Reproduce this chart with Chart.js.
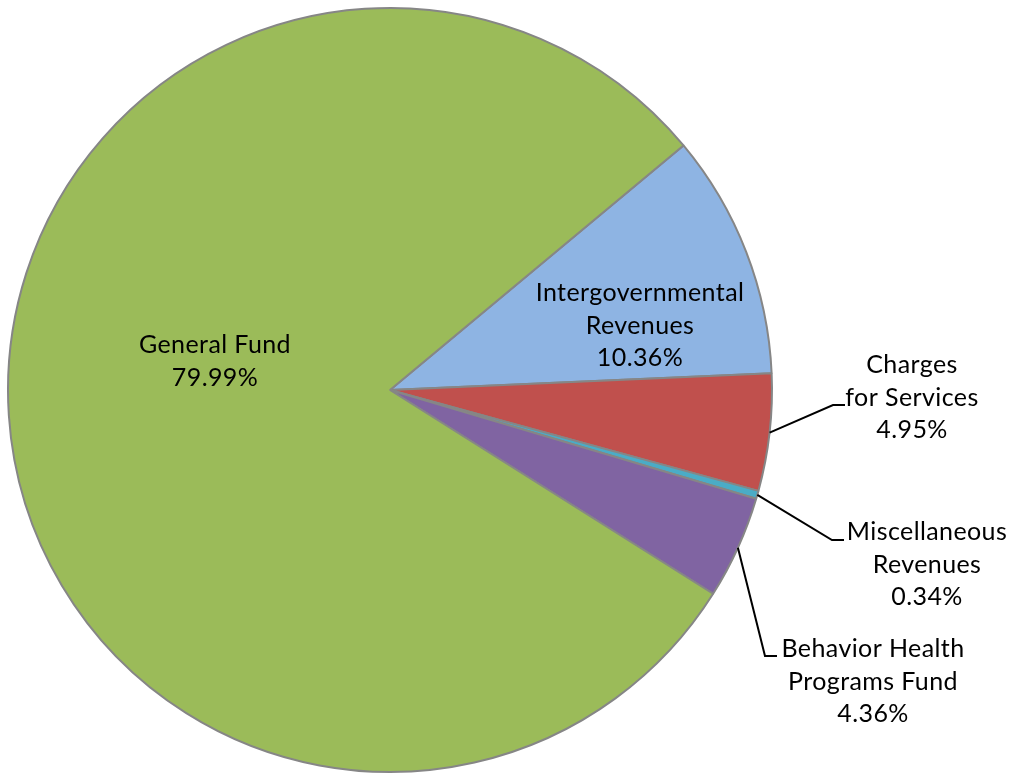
<!DOCTYPE html>
<html>
<head>
<meta charset="utf-8">
<title>Revenue Sources</title>
<script src="https://cdn.jsdelivr.net/npm/chart.js@4.4.1/dist/chart.umd.min.js"></script>
<style>
  html, body { margin: 0; padding: 0; background: #fff; }
  #chart_div { position: relative; width: 1013px; height: 775px; }
</style>
</head>
<body>
<div id="chart_div"><canvas id="myChart"></canvas></div>
<script>
// revenue sources, in drawing order (clockwise from the upper right)
const sources = [
  ["Intergovernmental", "Revenues"],
  ["Charges", "for Services"],
  ["Miscellaneous", "Revenues"],
  ["Behavior Health", "Programs Fund"],
  ["General Fund"]
];
const shares = [10.36, 4.95, 0.34, 4.36, 79.99];
const sliceColors = ["#8EB4E3", "#C0504D", "#4BACC6", "#8064A2", "#9BBB59"];

// where each label's first baseline sits, and the elbow of its leader line (if any)
const labelSpots = [
  { x: 640, y: 301 },
  { x: 912, y: 373, elbow: { x: 833, y: 405 } },
  { x: 927, y: 540, elbow: { x: 832, y: 540 } },
  { x: 873, y: 657, elbow: { x: 765, y: 656 } },
  { x: 215, y: 353 }
];

const sliceLabels = {
  id: "sliceLabels",
  afterDatasetsDraw(chart) {
    const ctx = chart.ctx;
    const arcs = chart.getDatasetMeta(0).data;
    const total = shares.reduce((a, b) => a + b, 0);
    ctx.save();
    ctx.font = "25px Lato";
    ctx.letterSpacing = "0.4px";
    ctx.fillStyle = "#000";
    ctx.textAlign = "center";
    ctx.textBaseline = "alphabetic";
    ctx.strokeStyle = "#000";
    ctx.lineWidth = 2;
    arcs.forEach((arc, i) => {
      const spot = labelSpots[i];
      const lines = sources[i].concat([(shares[i] / total * 100).toFixed(2) + "%"]);
      lines.forEach((t, k) => ctx.fillText(t, spot.x, spot.y + k * 32.5));
      if (spot.elbow) {
        const mid = (arc.startAngle + arc.endAngle) / 2;
        const x0 = arc.x + Math.cos(mid) * arc.outerRadius;
        const y0 = arc.y + Math.sin(mid) * arc.outerRadius;
        ctx.beginPath();
        ctx.moveTo(x0, y0);
        ctx.lineTo(spot.elbow.x, spot.elbow.y);
        ctx.lineTo(spot.elbow.x + 12, spot.elbow.y);
        ctx.stroke();
      }
    });
    ctx.restore();
  }
};

const config = {
  type: "pie",
  data: {
    labels: sources.map((s) => s.join(" ")),
    datasets: [
      {
        data: shares,
        backgroundColor: sliceColors,
        borderColor: "#868686",
        borderWidth: 2
      }
    ]
  },
  options: {
    responsive: true,
    maintainAspectRatio: false,
    animation: false,
    rotation: 50.2,
    layout: { padding: { left: 7, top: 7, right: 240, bottom: 2 } },
    plugins: {
      legend: { display: false },
      tooltip: { enabled: false }
    }
  },
  plugins: [sliceLabels]
};

window.onload = () => {
  new Chart(document.getElementById("myChart"), config);
};
</script>
</body>
</html>
